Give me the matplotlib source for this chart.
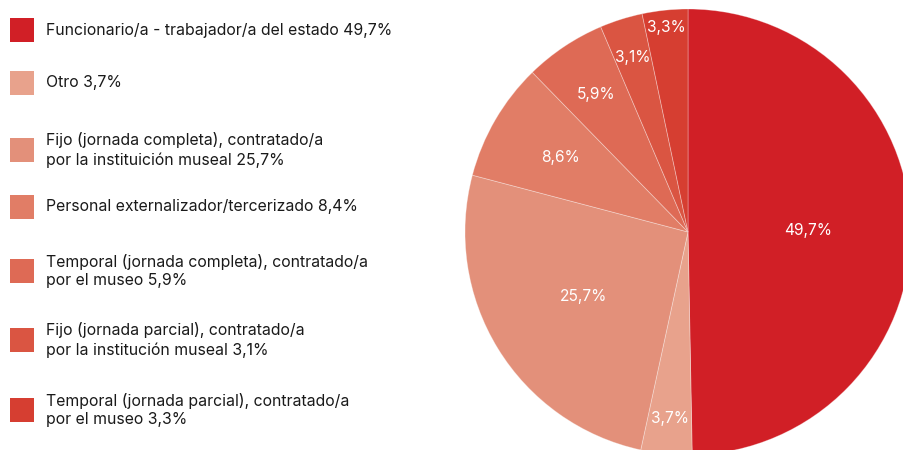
import matplotlib
matplotlib.use("Agg")
import matplotlib.pyplot as plt
import numpy as np
from matplotlib.patches import Rectangle

plt.rcParams['font.family'] = ['Inter', 'DejaVu Sans']

legend_labels = [
    "Funcionario/a - trabajador/a del estado 49,7%",
    "Otro 3,7%",
    "Fijo (jornada completa), contratado/a\npor la instituición museal 25,7%",
    "Personal externalizador/tercerizado 8,4%",
    "Temporal (jornada completa), contratado/a\npor el museo 5,9%",
    "Fijo (jornada parcial), contratado/a\npor la institución museal 3,1%",
    "Temporal (jornada parcial), contratado/a\npor el museo 3,3%",
]
values = [49.7, 3.7, 25.7, 8.6, 5.9, 3.1, 3.3]
value_labels = ["49,7%", "3,7%", "25,7%", "8,6%", "5,9%", "3,1%", "3,3%"]
colors = ["#D11F26", "#E8A28C", "#E3907A", "#E17D66", "#DE6A55", "#DA5542", "#D63E31"]

# layout (pixels)
W, H = 904, 450
label_radius = [0.54, 0.84, 0.55, 0.66, 0.74, 0.82, 0.92]
row_y = [30, 83, 150, 207, 271, 340, 410]

fig = plt.figure(figsize=(W / 100, H / 100), dpi=100)
fig.patch.set_facecolor("white")

cx, cy, r = 688, 232, 223
ax = fig.add_axes([(cx - r) / W, (H - (cy + r)) / H, 2 * r / W, 2 * r / H])
wedges, _ = ax.pie(values, colors=colors, startangle=90, counterclock=False,
                   radius=1, wedgeprops=dict(edgecolor=(1, 1, 1, 0.35), linewidth=0.6))
ax.set_xlim(-1, 1)
ax.set_ylim(-1, 1)
ax.set_aspect("equal")
ax.axis("off")
for w, lab, rf in zip(wedges, value_labels, label_radius):
    ang = np.deg2rad((w.theta1 + w.theta2) / 2)
    ax.text(rf * np.cos(ang), rf * np.sin(ang), lab, ha="center", va="center",
            color="white", fontsize=11.2)

for lab, col, y in zip(legend_labels, colors, row_y):
    fig.patches.append(Rectangle((10 / W, 1 - (y + 12) / H), 24 / W, 24 / H,
                                 transform=fig.transFigure, facecolor=col,
                                 edgecolor="none"))
    fig.text(46 / W, 1 - y / H, lab, ha="left", va="center", fontsize=11.4,
             color="#1a1a1a", linespacing=1.3)

fig.savefig("out.png", dpi=100)
